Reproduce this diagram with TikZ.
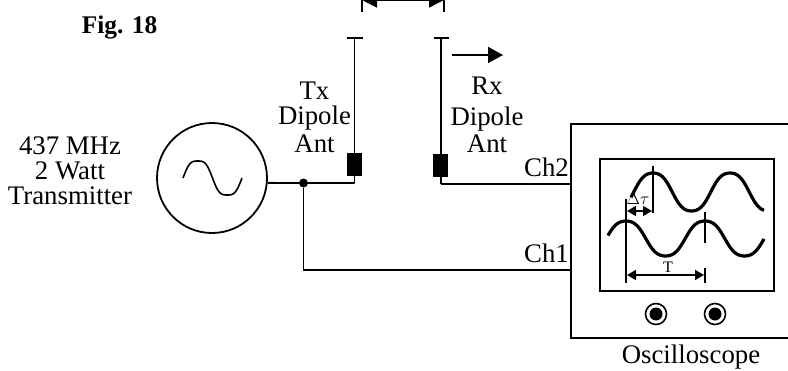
\documentclass[tikz,border=0pt]{standalone}
\usepackage{fontspec}
\setmainfont{Liberation Serif}
\usetikzlibrary{
    arrows.meta,
    positioning
}
\tikzset{
    % Box styles
    ant box/.style={
        draw=black,
        fill=black,
        rectangle,
        inner sep=0pt,
        minimum width=14pt,
        minimum height=22pt
    },
    scope box/.style={
        draw=black,
        line width=1.8pt,
        rectangle,
        inner sep=0pt
    },
    knob/.style={
        circle,
        draw=black,
        line width=1.6pt,
        inner sep=0pt,
        minimum size=21pt
    },
    knob dot/.style={
        circle,
        fill=black,
        inner sep=0pt,
        minimum size=13pt
    },
    % Text styles
    label text/.style={
        font=\fontsize{26.8}{25}\selectfont,
        align=center,
        inner sep=0pt
    },
    small text/.style={
        font=\fontsize{16}{16}\selectfont,
        inner sep=0pt
    },
    % Arrow styles
    wire/.style={
        line width=1.8pt
    },
    trace/.style={
        line width=3.2pt
    },
    dim arrow/.style={
        <->,
        line width=1.6pt,
        >={Triangle[length=9pt,width=10pt]}
    }
}

\begin{document}
\begin{tikzpicture}[x=1pt,y=-1pt]
    \useasboundingbox (0,0) rectangle (788,370);

    % Transmitter
    \node[circle, draw=black, line width=1.8pt, inner sep=0pt, minimum size=110pt] (txsrc) at (212,178) {};
    \draw[line width=1.6pt] plot[smooth, domain=0:360, samples=49] ({183+\x/360*59},{178-17*(sin(\x)+0.1*sin(3*\x))/0.9});
    \node[label text] (txlabel) at (70,171) {437 MHz\\2 Watt\\Transmitter};
    \node[font=\fontsize{25.4}{25}\selectfont\bfseries, inner sep=0pt, anchor=base] (figlabel) at (119.5,33) {Fig. 18};

    % Antennas
    \node[ant box] (txbox) at (354.5,164) {};
    \node[ant box] (rxbox) at (440.5,165.5) {};
    \coordinate (txtop) at (354.5,38);
    \coordinate (rxtop) at (441,38);
    \coordinate (txfoot) at (354.5,183);
    \coordinate (rxfoot) at (441,184);
    \node[circle, fill=black, inner sep=0pt, minimum size=9pt] (junction) at (303.5,183) {};
    \draw[wire] (txtop) -- (txfoot);
    \draw[wire] (rxtop) -- (rxfoot);
    \draw[wire] ([xshift=-8pt]txtop) -- ([xshift=8pt]txtop);
    \draw[wire] ([xshift=-7.5pt]rxtop) -- ([xshift=7.5pt]rxtop);
    \node[label text] (txname) at (314.5,117) {Tx\\[0pt]Dipole\\[3pt]Ant};
    \node[label text] (rxname) at (487,115) {Rx\\[6pt]Dipole\\[2pt]Ant};

    % Spacing marks
    \coordinate (gapl) at (362,0);
    \coordinate (gapr) at (444,0);
    \draw[wire] (gapl) -- (362,12);
    \draw[wire] (gapr) -- (444,12);
    \draw[wire, <->, >={Triangle[length=15pt,width=15pt]}] (gapl) -- (gapr);
    \coordinate (moveb) at (452,55);
    \coordinate (movee) at (503,55);
    \draw[wire, -{Triangle[length=15pt,width=16pt]}] (moveb) -- (movee);

    % Oscilloscope
    \node[scope box, minimum width=229pt, minimum height=214pt] (scope) at (685.5,231) {};
    \node[scope box, minimum width=174pt, minimum height=132pt] (screen) at (687,225) {};
    \node[knob] (knoba) at (656,314) {};
    \node[knob] (knobb) at (715,314) {};
    \node[knob dot] at (knoba) {};
    \node[knob dot] at (knobb) {};
    \node[label text] (scopelabel) at (691,357.5) {Oscilloscope};
    \coordinate (ch2in) at (571,184);
    \coordinate (ch1in) at (571,270);
    \node[label text, anchor=base east] (ch2) at (569,176) {Ch2};
    \node[label text, anchor=base east] (ch1) at (569,262) {Ch1};

    % Wires
    \draw[wire] (txsrc.-5) -- (junction) -- (txfoot);
    \draw[wire] (rxfoot) -- (ch2in);
    \draw[wire] (junction) |- (ch1in);

    % Traces
    \draw[trace] plot[smooth, domain=631:764, samples=60] (\x,{192-19*(cos((\x-653)/77*360)-0.06*cos(3*(\x-653)/77*360))/0.94});
    \draw[trace] plot[smooth, domain=608:764, samples=60] (\x,{238.5-17.5*(cos((\x-626)/79*360)-0.06*cos(3*(\x-626)/79*360))/0.94});

    % Measurements
    \coordinate (ta) at (626,199);
    \coordinate (tb) at (626,283);
    \coordinate (tc) at (653,166);
    \coordinate (td) at (653,213);
    \coordinate (te) at (705,212);
    \coordinate (tf) at (705,243);
    \coordinate (tg) at (705,268);
    \coordinate (th) at (705,283);
    \draw[wire] (ta) -- (tb);
    \draw[wire] (tc) -- (td);
    \draw[wire] (te) -- (tf);
    \draw[wire] (tg) -- (th);
    \draw[dim arrow] (627,211) -- (652,211);
    \draw[dim arrow] (627,275) -- (704,275);
    \node[small text] (period) at (668,267) {T};
    \node[small text] (delay) at (638,199) {$\Delta\tau$};
\end{tikzpicture}
\end{document}
